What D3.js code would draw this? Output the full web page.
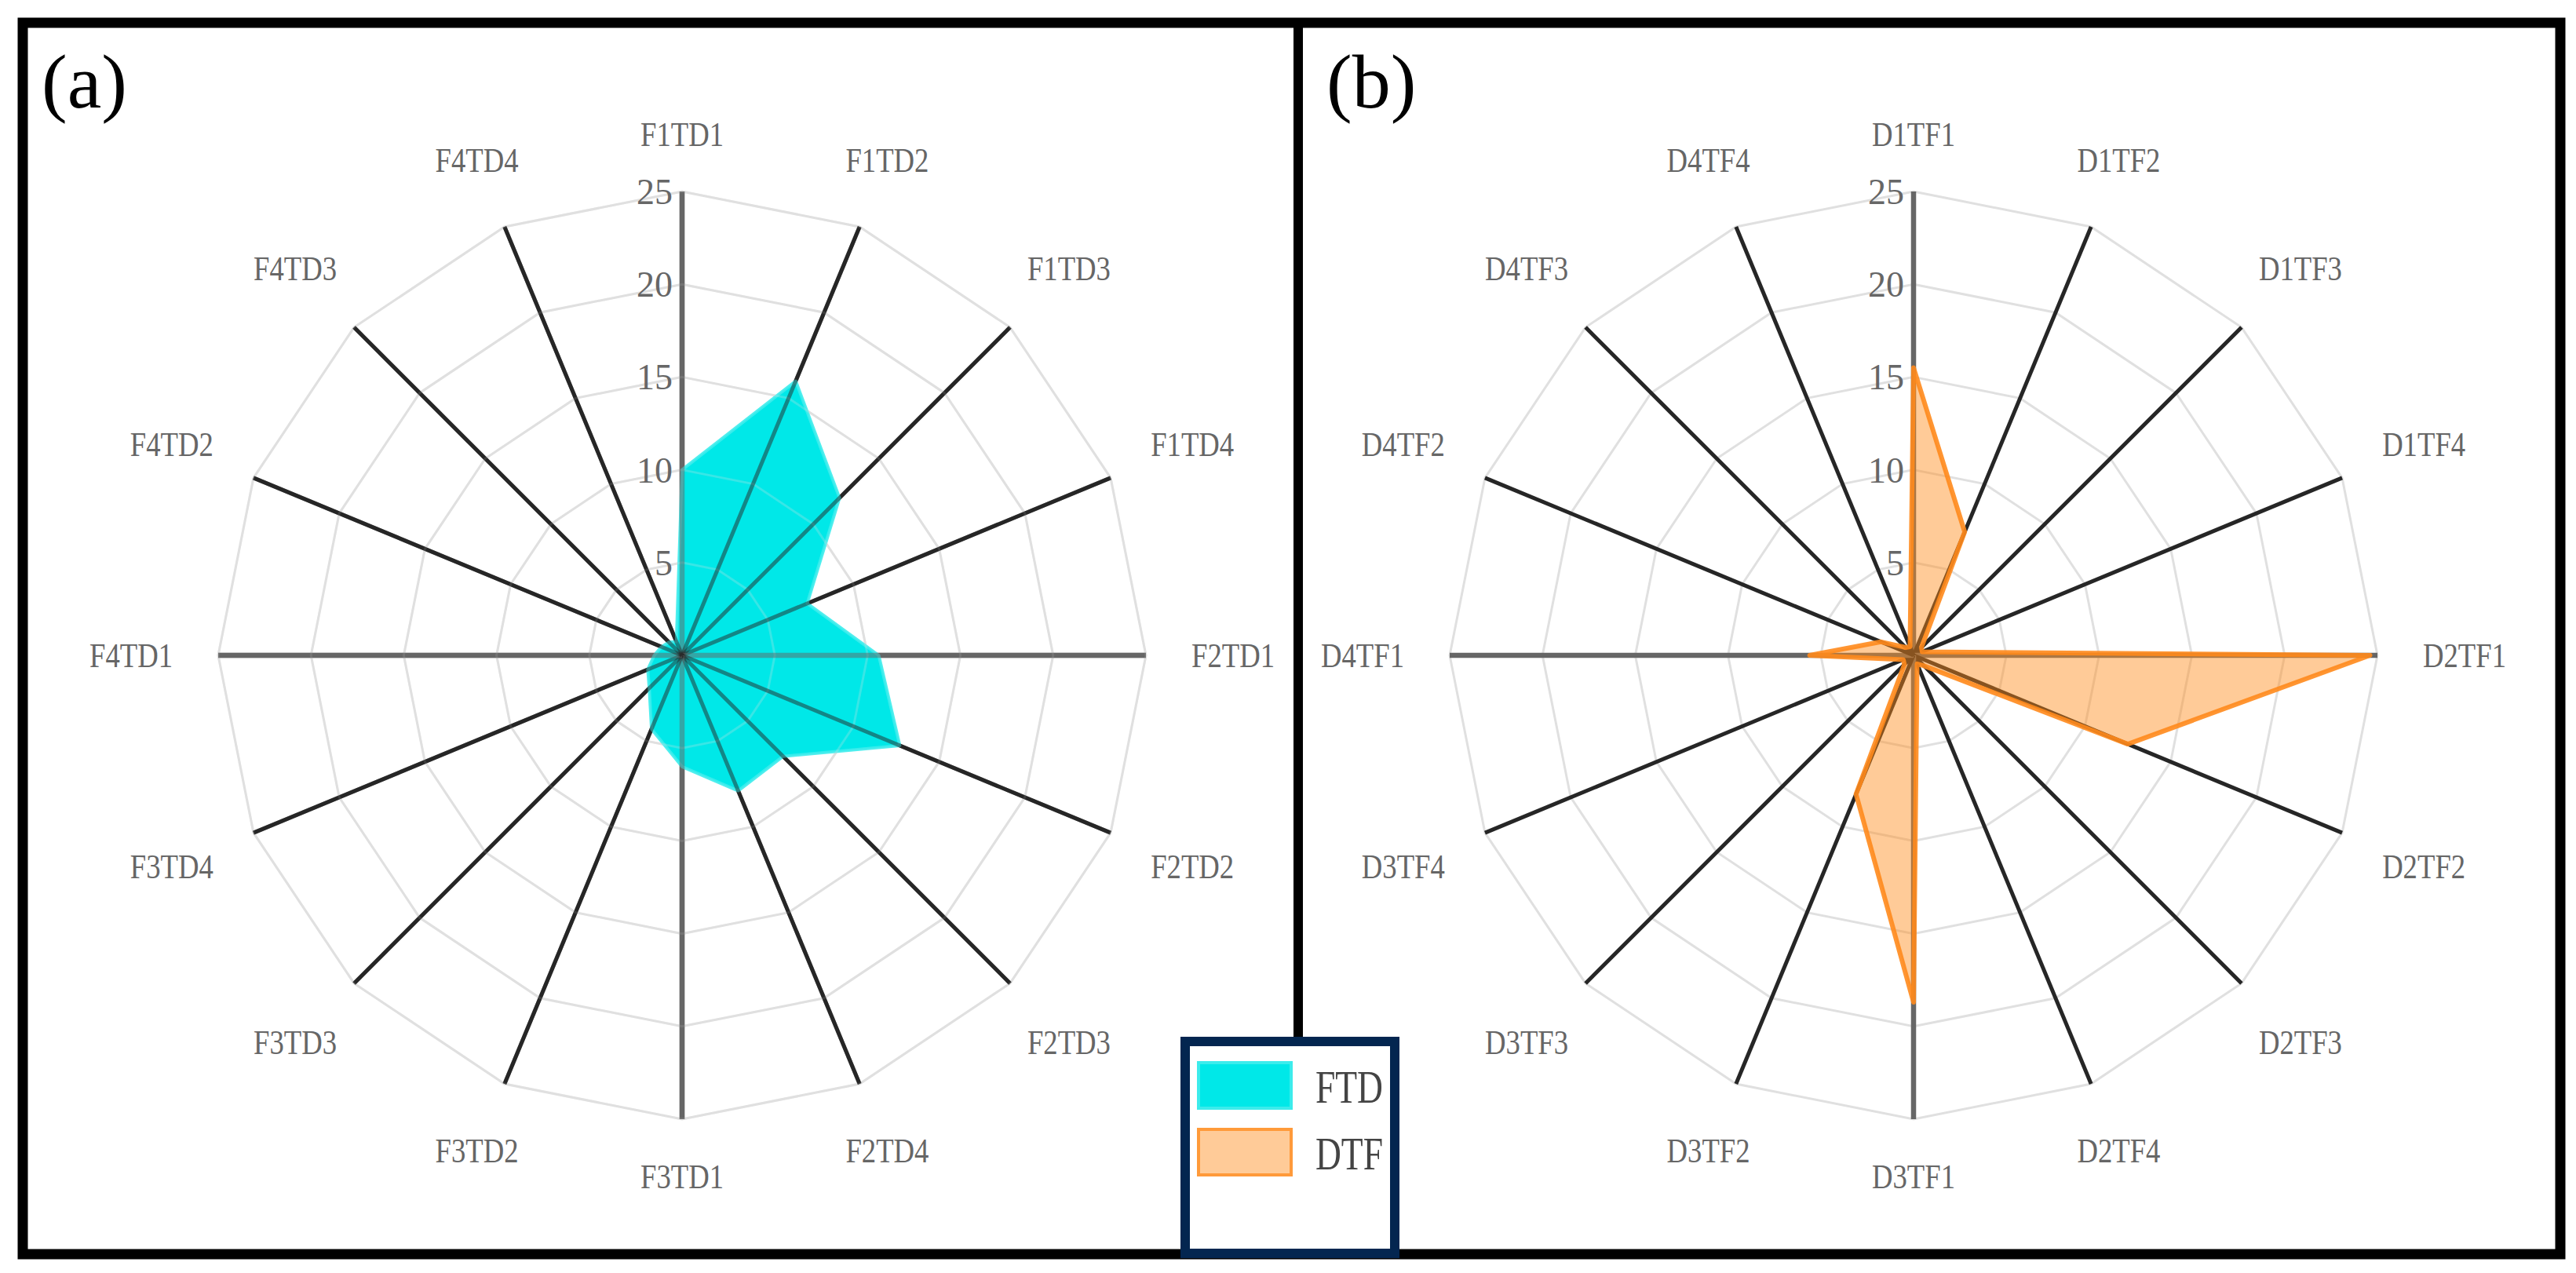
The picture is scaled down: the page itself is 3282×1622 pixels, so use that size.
<!DOCTYPE html>
<html>
<head>
<meta charset="utf-8">
<script src="https://cdn.jsdelivr.net/npm/d3@7"></script>
<style>
  html, body { margin: 0; padding: 0; background: #fff; }
  svg { display: block; }
  text { font-family: "Liberation Serif", "DejaVu Serif", "Noto Serif", "Tinos", "Times New Roman", "Times", "Nimbus Roman", "FreeSerif", serif; }
</style>
</head>
<body>
<div id="chart"></div>
<script>
// ---------------- DATA ----------------
const ftdCategories = ["F1TD1","F1TD2","F1TD3","F1TD4","F2TD1","F2TD2","F2TD3","F2TD4",
                       "F3TD1","F3TD2","F3TD3","F3TD4","F4TD1","F4TD2","F4TD3","F4TD4"];
const ftdValues     = [10, 16, 12, 7.3, 10.6, 12.7, 7.7, 7.9, 6, 4.3, 2.5, 2.0, 1.5, 1.2, 1.0, 0.8];

const dtfCategories = ["D1TF1","D1TF2","D1TF3","D1TF4","D2TF1","D2TF2","D2TF3","D2TF4",
                       "D3TF1","D3TF2","D3TF3","D3TF4","D4TF1","D4TF2","D4TF3","D4TF4"];
const dtfValues     = [15.5, 7.2, 0.6, 0.5, 24.6, 12.5, 0.8, 0.5, 18.7, 8.1, 0.7, 0.6, 5.6, 1.9, 0.6, 0.5];

const tickValues   = [5, 10, 15, 20, 25];
const panelLabels  = ["(a)", "(b)"];
const legendLabels = ["FTD", "DTF"];

// ---------------- LAYOUT ----------------
const W = 3282, H = 1622;
const R = 591;
const svg = d3.select("#chart").append("svg").attr("width", W).attr("height", H);

const rScale = d3.scaleLinear().domain([0, 25]).range([0, R]);

const panels = [
  { cx: 869,  cy: 835, cats: ftdCategories, vals: ftdValues, fill: "#00e8e8", fillOpacity: 1,
    stroke: "#3cecec", strokeWidth: 4, overlay: true },
  { cx: 2438, cy: 835, cats: dtfCategories, vals: dtfValues, fill: "#ff8c1a", fillOpacity: 0.45,
    stroke: "#ff8a1c", strokeWidth: 6, overlay: false }
];

function drawPanel(p) {
  const n = p.cats.length;
  const angle = d3.scaleLinear().domain([0, n]).range([0, 2 * Math.PI]);
  const g = svg.append("g").attr("transform", `translate(${p.cx},${p.cy})`);

  const ringLine = d3.lineRadial().angle((d, i) => angle(i)).radius(d => rScale(d)).curve(d3.curveLinearClosed);

  const drawRings = (sel, op) => sel.selectAll(null).data(tickValues).enter().append("path")
    .attr("d", t => ringLine(d3.range(n).map(() => t)))
    .attr("fill", "none").attr("stroke", "#e0e0e0").attr("stroke-width", 3).attr("opacity", op);
  drawRings(g.append("g"), 1);

  const drawSpokes = (sel, op) => sel.selectAll(null).data(d3.range(n)).enter().append("line")
    .attr("x1", 0).attr("y1", 0)
    .attr("x2", i => rScale(25) * Math.sin(angle(i)))
    .attr("y2", i => -rScale(25) * Math.cos(angle(i)))
    .attr("stroke", i => (i % 4 === 0) ? "#666" : "#262626")
    .attr("stroke-width", i => (i % 4 === 0) ? 6.5 : 5)
    .attr("opacity", op);
  drawSpokes(g.append("g"), 1);

  const area = d3.lineRadial().angle((d, i) => angle(i)).radius(d => rScale(d)).curve(d3.curveLinearClosed);
  g.append("path").datum(p.vals)
    .attr("d", area)
    .attr("fill", p.fill).attr("fill-opacity", p.fillOpacity)
    .attr("stroke", p.stroke).attr("stroke-width", p.strokeWidth).attr("stroke-opacity", 0.9)
    .attr("stroke-linejoin", "round");

  if (p.overlay) {
    drawRings(g.append("g"), 0.25);
    drawSpokes(g.append("g"), 0.5);
  }

  g.selectAll(null).data(tickValues).enter().append("text")
    .attr("x", -12).attr("y", t => -rScale(t) + 16)
    .attr("text-anchor", "end")
    .attr("font-size", 46).attr("fill", "#666")
    .text(t => t);

  const hw = 53, hh = 15, gap = 58;
  g.selectAll(null).data(p.cats).enter().append("text")
    .each(function (c, i) {
      const a = angle(i), s = Math.sin(a), co = Math.cos(a);
      const dist = R + gap + hw * Math.abs(s) + hh * Math.abs(co);
      d3.select(this)
        .attr("x", dist * s)
        .attr("y", -dist * co + hh)
        .attr("text-anchor", "middle")
        .attr("textLength", 2 * hw).attr("lengthAdjust", "spacingAndGlyphs")
        .attr("font-size", 44).attr("fill", "#666")
        .text(c);
    });
}

panels.forEach(drawPanel);

// ---------------- FRAME ----------------
svg.append("rect").attr("x", 29).attr("y", 29).attr("width", 3233).attr("height", 1569)
  .attr("fill", "none").attr("stroke", "#000").attr("stroke-width", 13);
svg.append("line").attr("x1", 1654).attr("x2", 1654).attr("y1", 23).attr("y2", 1604)
  .attr("stroke", "#000").attr("stroke-width", 12);

svg.selectAll(null).data(panelLabels).enter().append("text")
  .attr("x", (d, i) => i === 0 ? 53 : 1690).attr("y", 137)
  .attr("font-size", 98).attr("fill", "#000")
  .text(d => d);

// ---------------- LEGEND ----------------
const lg = svg.append("g");
lg.append("rect").attr("x", 1510).attr("y", 1327).attr("width", 267).attr("height", 270)
  .attr("fill", "#fff").attr("stroke", "#032650").attr("stroke-width", 12);
const swatches = [
  { fill: "#00e8e8", op: 1, stroke: "#3cecec" },
  { fill: "#ff8c1a", op: 0.45, stroke: "#ff9a3a" }
];
const legY = d3.scalePoint().domain(legendLabels).range([1383, 1468]);
lg.selectAll(null).data(legendLabels).enter().append("rect")
  .attr("x", 1527).attr("y", d => legY(d) - 29).attr("width", 118).attr("height", 58)
  .attr("fill", (d, i) => swatches[i].fill).attr("fill-opacity", (d, i) => swatches[i].op)
  .attr("stroke", (d, i) => swatches[i].stroke).attr("stroke-width", 4);
lg.selectAll(null).data(legendLabels).enter().append("text")
  .attr("x", 1676).attr("y", d => legY(d) + 22)
  .attr("textLength", 86).attr("lengthAdjust", "spacingAndGlyphs")
  .attr("font-size", 60).attr("fill", "#444")
  .text(d => d);
</script>
</body>
</html>
